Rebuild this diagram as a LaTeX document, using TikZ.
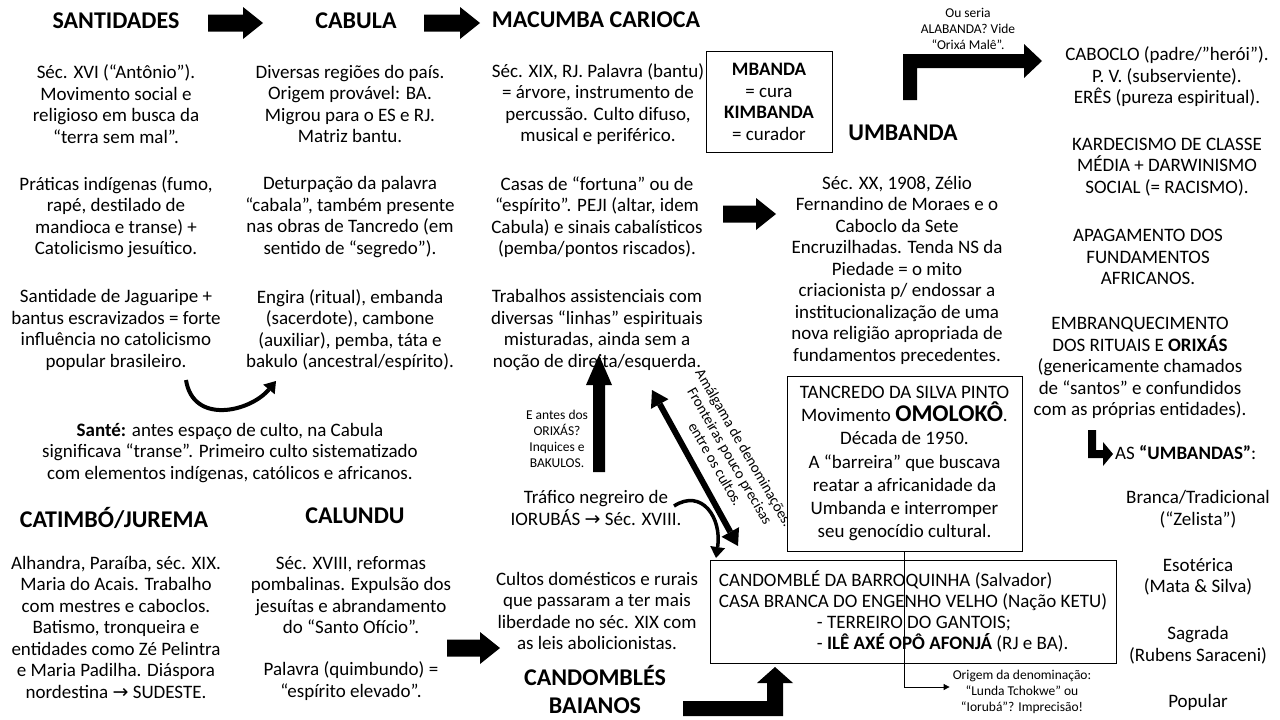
\documentclass[tikz,border=0pt]{standalone}
\usepackage{fontspec}
\setmainfont{Carlito}
\newfontfamily\symfont{DejaVu Sans}
\usetikzlibrary{arrows.meta}
\newcommand{\rarrow}{{\symfont\char"2192}}

\begin{document}
\begin{tikzpicture}[x=1pt, y=-1pt,
    head/.style={font=\fontsize{24}{28}\selectfont\bfseries, align=center, inner sep=0pt},
    body/.style={font=\fontsize{19}{21.5}\selectfont, align=center, inner sep=0pt},
    small/.style={font=\fontsize{13.5}{16}\selectfont, align=center, inner sep=0pt},
    frame/.style={draw, line width=1pt, inner sep=0pt},
    block/.style={fill=black},
    curved/.style={line width=4pt, -{Triangle[length=11pt, width=15pt, line width=0pt]}}
]
    \useasboundingbox (0,0) rectangle (1280,720);

    % Headings
    \node[head] (santidades) at (116,21) {SANTIDADES};
    \node[head] (cabula) at (356,21) {CABULA};
    \node[head] (macumba) at (596,20) {MACUMBA CARIOCA};
    \node[head] (umbanda) at (903,133) {UMBANDA};
    \node[head] (catimbo) at (114,518) {CATIMBÓ/JUREMA};
    \node[head] (calundu) at (355,516) {CALUNDU};
    \node[head] (baianos) at (595,689) {CANDOMBLÉS\\BAIANOS};

    % Santidades
    \node[body] (sant1) at (116,104) {Séc. XVI (“Antônio”).\\Movimento social e\\religioso em busca da\\“terra sem mal”.};
    \node[body] (sant2) at (116,217) {Práticas indígenas (fumo,\\rapé, destilado de\\mandioca e transe) +\\Catolicismo jesuítico.};
    \node[body] (sant3) at (116,330) {Santidade de Jaguaripe +\\bantus escravizados = forte\\influência no catolicismo\\popular brasileiro.};

    % Cabula
    \node[body] (cab1) at (350,104) {Diversas regiões do país.\\Origem provável: BA.\\Migrou para o ES e RJ.\\Matriz bantu.};
    \node[body] (cab2) at (350,217) {Deturpação da palavra\\“cabala”, também presente\\nas obras de Tancredo (em\\sentido de “segredo”).};
    \node[body] (cab3) at (350,330) {Engira (ritual), embanda\\(sacerdote), cambone\\(auxiliar), pemba, táta e\\bakulo (ancestral/espírito).};
    \node[body] (sante) at (230,453) {\textbf{Santé:} antes espaço de culto, na Cabula\\significava “transe”. Primeiro culto sistematizado\\com elementos indígenas, católicos e africanos.};

    % Macumba carioca
    \node[body] (mac1) at (598,104) {Séc. XIX, RJ. Palavra (bantu)\\= árvore, instrumento de\\percussão. Culto difuso,\\musical e periférico.};
    \node[body] (mac2) at (597,217) {Casas de “fortuna” ou de\\“espírito”. PEJI (altar, idem\\Cabula) e sinais cabalísticos\\(pemba/pontos riscados).};
    \node[body] (mac3) at (597,330) {Trabalhos assistenciais com\\diversas “linhas” espirituais\\misturadas, ainda sem a\\noção de direita/esquerda.};
    \node[frame, body, minimum width=126pt, minimum height=101pt] (mbanda) at (769,102) {\textbf{MBANDA}\\= cura\\\textbf{KIMBANDA}\\= curador};

    % Umbanda
    \node[body] (umb1) at (897,270) {Séc. XX, 1908, Zélio\\Fernandino de Moraes e o\\Caboclo da Sete\\Encruzilhadas. Tenda NS da\\Piedade = o mito\\criacionista p/ endossar a\\institucionalização de uma\\nova religião apropriada de\\fundamentos precedentes.};
    \node[small] (alabanda) at (968,29) {Ou seria\\ALABANDA? Vide\\“Orixá Malê”.};
    \node[frame, font=\fontsize{19}{23.3}\selectfont, align=center, minimum width=235pt, minimum height=175pt] (tanc) at (904.5,463.5) {TANCREDO DA SILVA PINTO\\Movimento {\fontsize{24}{24}\selectfont\bfseries OMOLOKÔ}.\\Década de 1950.\\A “barreira” que buscava\\reatar a africanidade da\\Umbanda e interromper\\seu genocídio cultural.};

    % Right column
    \node[body] (r1) at (1167,77) {CABOCLO (padre/”herói”).\\P. V. (subserviente).\\ERÊS (pureza espiritual).};
    \node[body] (r2) at (1167,167) {KARDECISMO DE CLASSE\\MÉDIA + DARWINISMO\\SOCIAL (= RACISMO).};
    \node[body] (r3) at (1148,257) {APAGAMENTO DOS\\FUNDAMENTOS\\AFRICANOS.};
    \node[body] (r4) at (1140,368) {EMBRANQUECIMENTO\\DOS RITUAIS E \textbf{ORIXÁS}\\(genericamente chamados\\de “santos” e confundidos\\com as próprias entidades).};
    \node[body, anchor=west] (umbandas) at (1115,453) {AS \textbf{“UMBANDAS”}:};
    \node[body] (u1) at (1198,509) {Branca/Tradicional\\(“Zelista”)};
    \node[body] (u2) at (1198,577) {Esotérica\\(Mata \& Silva)};
    \node[body] (u3) at (1198,645) {Sagrada\\(Rubens Saraceni)};
    \node[body] (u4) at (1198,702) {Popular};

    % Catimbo and Calundu
    \node[body] (cat1) at (116,627) {Alhandra, Paraíba, séc. XIX.\\Maria do Acais. Trabalho\\com mestres e caboclos.\\Batismo, tronqueira e\\entidades como Zé Pelintra\\e Maria Padilha. Diáspora\\nordestina \rarrow\ SUDESTE.};
    \node[body] (cal1) at (351,595) {Séc. XVIII, reformas\\pombalinas. Expulsão dos\\jesuítas e abrandamento\\do “Santo Ofício”.};
    \node[body] (cal2) at (351,681) {Palavra (quimbundo) =\\“espírito elevado”.};

    % Candomble
    \node[small] (eantes) at (557,439) {E antes dos\\ORIXÁS?\\Inquices e\\BAKULOS.};
    \node[body] (trafico) at (596,508) {Tráfico negreiro de\\IORUBÁS \rarrow\ Séc. XVIII.};
    \node[body] (cultos) at (597,611) {Cultos domésticos e rurais\\que passaram a ter mais\\liberdade no séc. XIX com\\as leis abolicionistas.};
    \node[frame, font=\fontsize{19}{21}\selectfont, align=left, minimum width=406pt, minimum height=103pt] (cand) at (913,611.5) {CANDOMBLÉ DA BARROQUINHA (Salvador)\\CASA BRANCA DO ENGENHO VELHO (Nação KETU)\\\hspace*{98pt}- TERREIRO DO GANTOIS;\\\hspace*{98pt}- \textbf{ILÊ AXÉ OPÔ AFONJÁ} (RJ e BA).};
    \node[small] (origem) at (1022,692) {Origem da denominação:\\“Lunda Tchokwe” ou\\“Iorubá”? Imprecisão!};
    \node[font=\fontsize{15}{16.5}\selectfont, align=center, inner sep=0pt, rotate=-60] (amalg) at (730,456) {Amálgama de denominações.\\Fronteiras pouco precisas\\entre os cultos.};

    % Block arrows
    \foreach \xa/\xb/\yc in {208/263/23, 424/480/23, 723/776/214, 447/500/648}
        \fill[block] (\xa,\yc-8.5) -- (\xb-20,\yc-8.5) -- (\xb-20,\yc-16) -- (\xb,\yc)
            -- (\xb-20,\yc+16) -- (\xb-20,\yc+8.5) -- (\xa,\yc+8.5) -- cycle;
    \fill[block] (593,472) -- (593,385) -- (586,385) -- (599,355) -- (612,385) -- (605,385) -- (605,472) -- cycle;
    \fill[block] (903,100) -- (903,54) -- (1024,54) -- (1024,44) -- (1042,61) -- (1024,78) -- (1024,68) -- (917,68) -- (917,100) -- cycle;
    \fill[block] (1088,430) -- (1096,430) -- (1096,450) -- (1103,450) -- (1103,442) -- (1113,454) -- (1103,466) -- (1103,458) -- (1088,458) -- cycle;
    \fill[block] (683,701) -- (767,701) -- (767,683) -- (757,683) -- (775,667) -- (793,683) -- (783,683) -- (783,716) -- (683,716) -- cycle;

    % Connectors
    \coordinate (amA) at (652,390);
    \coordinate (amB) at (738,546);
    \draw[line width=6pt, {Triangle[length=16pt, width=20pt, line width=0pt]}-{Triangle[length=16pt, width=20pt, line width=0pt]}] (amA) -- (amB);
    \coordinate (santeA) at (186,380);
    \coordinate (santeB) at (276,381);
    \draw[curved] (santeA) .. controls (193,425) and (250,412) .. (santeB);
    \coordinate (trafA) at (674,506);
    \coordinate (trafB) at (716,558);
    \draw[curved, line width=3.5pt] (trafA) .. controls (702,488) and (722,518) .. (trafB);
    \draw[line width=0.8pt, -{Triangle[length=6pt, width=6pt]}] (tanc.south) |- ([xshift=-3pt, yshift=5pt]origem.west);
\end{tikzpicture}
\end{document}
